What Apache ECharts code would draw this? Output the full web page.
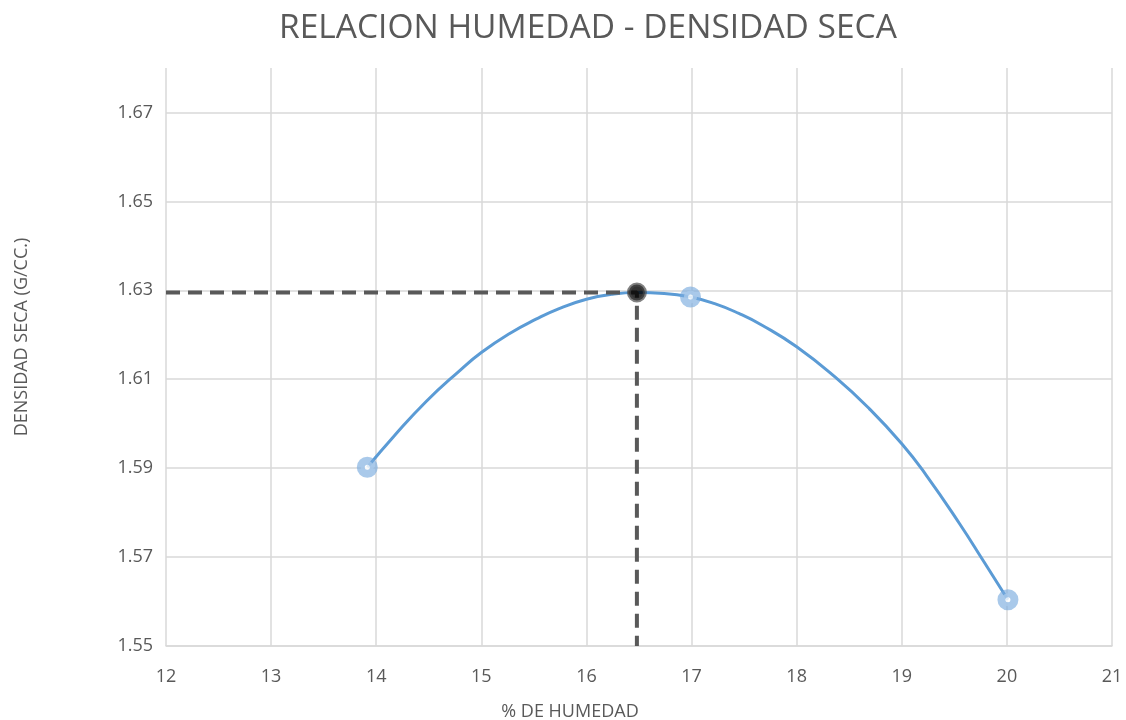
<!DOCTYPE html>
<html>
<head>
<meta charset="utf-8">
<title>Relacion humedad - densidad seca</title>
<script src="https://cdn.jsdelivr.net/npm/echarts@6/dist/echarts.min.js"></script>
<style>
  html, body { margin: 0; padding: 0; background: #fff; }
  #chart { width: 1126px; height: 720px; }
</style>
</head>
<body>
<div id="chart"></div>
<script>
// puntos del ensayo (% humedad, densidad seca)
const humedad = [13.915, 16.99, 20.01];
const densidad = [1.5902, 1.6285, 1.5604];

// curva de compactacion
const curvaX = [13.915, 14.158, 14.475, 14.792, 15.0, 15.27, 15.52, 15.74, 16.0, 16.24, 16.48, 16.74, 16.99, 17.22, 17.45, 17.675, 18.0, 18.37, 18.69, 19.0, 19.23, 19.55, 19.78, 20.01];
const curvaY = [1.5902, 1.5969, 1.6050, 1.6119, 1.6160, 1.6203, 1.6235, 1.6259, 1.6280, 1.6291, 1.6295, 1.6293, 1.6285, 1.6270, 1.6248, 1.6221, 1.6173, 1.6104, 1.6034, 1.5955, 1.5885, 1.5775, 1.5690, 1.5604];

// optimo (humedad optima, densidad maxima)
const optimoX = 16.48;
const optimoY = 1.6295;
const guiaX = [12, optimoX, optimoX];
const guiaY = [optimoY, optimoY, 1.55];

const gris = '#595959';
const font = 'Open Sans';

let chart = echarts.init(document.getElementById('chart'));
chart.setOption({
    backgroundColor: '#fff',
    animation: false,
    title: {
        text: 'RELACION HUMEDAD - DENSIDAD SECA',
        left: 274,
        top: 6,
        textStyle: { color: gris, fontSize: 33.5, fontWeight: 'normal', fontFamily: font }
    },
    grid: { left: 166, right: 14, top: 68, bottom: 74, outerBoundsMode: 'none' },
    xAxis: {
        type: 'value',
        min: 12,
        max: 21,
        interval: 1,
        name: '% DE HUMEDAD',
        nameLocation: 'middle',
        nameGap: 57,
        nameTextStyle: { color: gris, fontSize: 18, fontFamily: font, padding: [0, 138, 0, 0] },
        axisLine: { show: true, lineStyle: { color: '#d9d9d9', width: 1.5 } },
        axisTick: { show: false },
        axisLabel: { color: gris, fontSize: 18, fontFamily: font, margin: 22 },
        splitLine: { show: true, lineStyle: { color: '#d9d9d9', width: 1.5 } }
    },
    yAxis: {
        type: 'value',
        min: 1.55,
        max: 1.68,
        interval: 0.01,
        name: 'DENSIDAD SECA (G/CC.)',
        nameLocation: 'middle',
        nameGap: 135,
        nameTextStyle: { color: gris, fontSize: 18, fontFamily: font, padding: [0, 0, 0, 40] },
        axisLine: { show: false },
        axisTick: { show: false },
        axisLabel: {
            color: gris,
            fontSize: 18,
            fontFamily: font,
            margin: 13,
            formatter: function (v) {
                return Math.round(v * 100) % 2 === 1 ? v.toFixed(2) : '';
            }
        },
        splitLine: { show: true, lineStyle: { color: ['#d9d9d9', 'rgba(0,0,0,0)'], width: 1.5 } }
    },
    series: [
        {
            name: 'curva',
            type: 'line',
            smooth: 0.5,
            showSymbol: false,
            data: curvaX.map((x, i) => [x, curvaY[i]]),
            lineStyle: { color: '#5b9bd5', width: 3 },
            z: 2
        },
        {
            name: 'ensayo',
            type: 'scatter',
            symbolSize: 13,
            data: humedad.map((x, i) => [x, densidad[i]]),
            itemStyle: { color: '#fff', borderColor: 'rgba(120,170,222,0.8)', borderWidth: 8 },
            z: 3
        },
        {
            name: 'guia',
            type: 'line',
            showSymbol: false,
            data: guiaX.map((x, i) => [x, guiaY[i]]),
            lineStyle: { color: gris, width: 4, type: [14, 8] },
            z: 4
        },
        {
            name: 'optimo',
            type: 'scatter',
            symbolSize: 16,
            data: [[optimoX, optimoY]],
            itemStyle: { color: '#000', borderColor: 'rgba(70,70,70,0.85)', borderWidth: 4 },
            z: 5
        }
    ]
});
</script>
</body>
</html>
